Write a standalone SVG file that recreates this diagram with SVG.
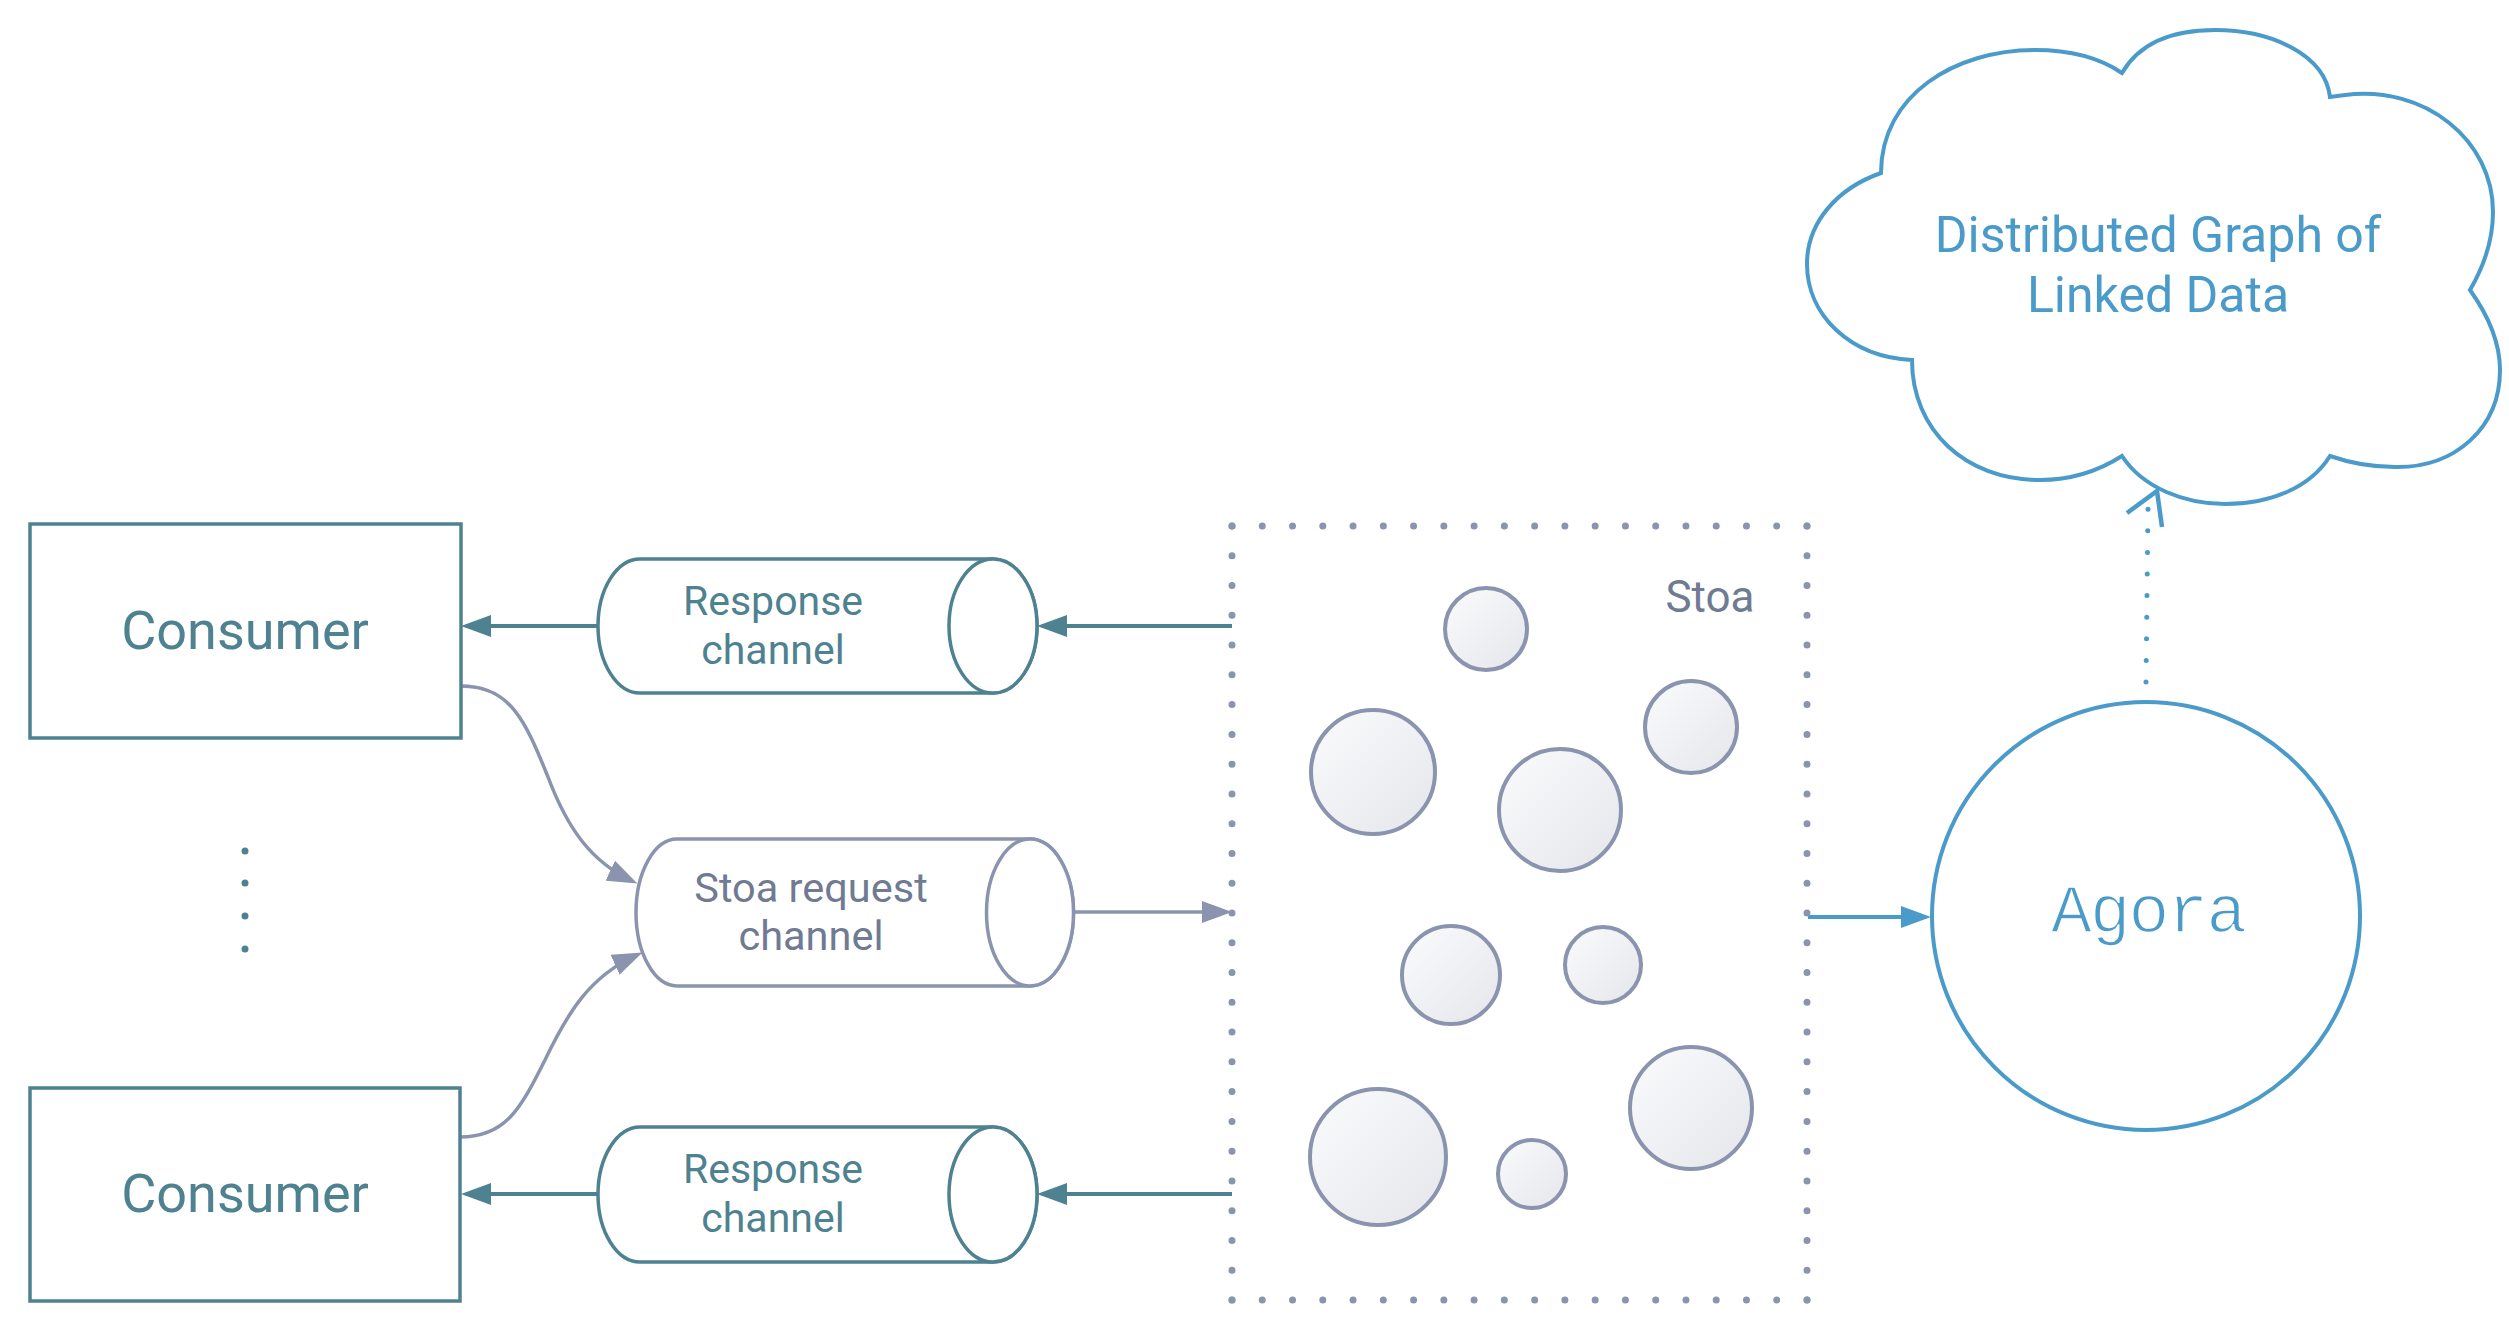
<svg xmlns="http://www.w3.org/2000/svg" width="2509" height="1324" viewBox="0 0 2509 1324">
<style>
text{font-family:Roboto,"Liberation Sans",sans-serif}
.box{fill:#fff;stroke:#4e8291;stroke-width:3.5}
.cyl-t{fill:#fff;stroke:#4e8291;stroke-width:3.5}
.cyl-g{fill:#fff;stroke:#8a94ae;stroke-width:3.5}
.t-teal{fill:#4e8291}
.t-gray{fill:#717a93}
.t-blue{fill:#4a9bca}
.bubble{fill:url(#bub);stroke:#8a94ae;stroke-width:4}
.c-teal{fill:none;stroke:#4e8291;stroke-width:4}
.c-gray{fill:none;stroke:#8a94ae;stroke-width:3.5}
.c-blue{fill:none;stroke:#4a9bca;stroke-width:4}
.dots{fill:none;stroke:#8a94ae;stroke-width:7;stroke-linecap:round}
</style>
<defs>
<linearGradient id="bub" x1="0" y1="0" x2="1" y2="1">
<stop offset="0" stop-color="#fafbfc"/>
<stop offset="1" stop-color="#e4e6eb"/>
</linearGradient>
<marker id="aTeal" markerUnits="userSpaceOnUse" viewBox="0 0 30 22" markerWidth="30" markerHeight="22" refX="24" refY="11" orient="auto">
<path d="M0,0 L30,11 L0,22 Z" fill="#4e8291"/>
</marker>
<marker id="aGray" markerUnits="userSpaceOnUse" viewBox="0 0 30 22" markerWidth="30" markerHeight="22" refX="24" refY="11" orient="auto">
<path d="M0,0 L30,11 L0,22 Z" fill="#8a94ae"/>
</marker>
<marker id="aBlue" markerUnits="userSpaceOnUse" viewBox="0 0 30 22" markerWidth="30" markerHeight="22" refX="24" refY="11" orient="auto">
<path d="M0,0 L30,11 L0,22 Z" fill="#4a9bca"/>
</marker>
</defs>
<rect width="2509" height="1324" fill="#fff"/>

<g id="connectors">
<path class="c-teal" d="M598,626 H467" marker-end="url(#aTeal)"/>
<path class="c-teal" d="M1232,626 H1043" marker-end="url(#aTeal)"/>
<path class="c-teal" d="M598,1194 H467" marker-end="url(#aTeal)"/>
<path class="c-teal" d="M1232,1194 H1043" marker-end="url(#aTeal)"/>
<path class="c-gray" d="M461,686 C510,686 525,720 548,777 C568,830 592,862 632,881" marker-end="url(#aGray)"/>
<path class="c-gray" d="M460,1137 C505,1137 520,1110 545,1060 C568,1012 590,976 637,955" marker-end="url(#aGray)"/>
<path class="c-gray" d="M1073,912 H1226" marker-end="url(#aGray)"/>
<path class="c-blue" d="M1808,917 H1925" marker-end="url(#aBlue)"/>
<path d="M2146,682 L2148,509" fill="none" stroke="#4a9bca" stroke-width="5" stroke-linecap="round" stroke-dasharray="0 21.6"/>
<path d="M2127,513 L2157,491 L2162,527" fill="none" stroke="#4a9bca" stroke-width="4.5"/>
</g>

<g id="consumer1">
<rect class="box" x="30" y="524" width="431" height="214"/>
<text class="t-teal" x="245" y="649" font-size="54" text-anchor="middle">Consumer</text>
</g>
<g id="consumer2">
<rect class="box" x="30" y="1088" width="430" height="213"/>
<text class="t-teal" x="245" y="1212" font-size="54" text-anchor="middle">Consumer</text>
</g>
<g id="ellipsis" class="t-teal">
<circle cx="245" cy="851" r="3.5"/>
<circle cx="245" cy="883" r="3.5"/>
<circle cx="245" cy="916" r="3.5"/>
<circle cx="245" cy="949" r="3.5"/>
</g>

<g id="response-channel-1">
<path class="cyl-t" d="M640,559 L993,559 A44,67 0 0 1 993,693 L640,693 A42,67 0 0 1 640,559 Z"/>
<ellipse class="cyl-t" cx="993" cy="626" rx="44" ry="67"/>
<text class="t-teal" font-size="41" text-anchor="middle"><tspan x="773" y="615">Response</tspan><tspan x="773" y="664">channel</tspan></text>
</g>
<g id="response-channel-2">
<path class="cyl-t" d="M640,1127 L993,1127 A44,67.5 0 0 1 993,1262 L640,1262 A42,67.5 0 0 1 640,1127 Z"/>
<ellipse class="cyl-t" cx="993" cy="1194.5" rx="44" ry="67.5"/>
<text class="t-teal" font-size="41" text-anchor="middle"><tspan x="773" y="1183">Response</tspan><tspan x="773" y="1232">channel</tspan></text>
</g>
<g id="stoa-request-channel">
<path class="cyl-g" d="M677,839 L1030,839 A43.5,73.5 0 0 1 1030,986 L677,986 A41,73.5 0 0 1 677,839 Z"/>
<ellipse class="cyl-g" cx="1030" cy="912.5" rx="43.5" ry="73.5"/>
<text class="t-gray" font-size="41.5" text-anchor="middle"><tspan x="811" y="902">Stoa request</tspan><tspan x="811" y="950">channel</tspan></text>
</g>

<g id="stoa">
<path class="dots" d="M1232,526 H1807 M1232,1300 H1807" stroke-dasharray="0 30.263"/>
<path class="dots" d="M1232,526 V1300 M1807,526 V1300" stroke-dasharray="0 29.769"/>
<text class="t-gray" x="1710" y="612" font-size="44" text-anchor="middle">Stoa</text>
<circle class="bubble" cx="1486" cy="629" r="41"/>
<circle class="bubble" cx="1373" cy="772" r="62"/>
<circle class="bubble" cx="1560" cy="810" r="61"/>
<circle class="bubble" cx="1691" cy="727" r="46"/>
<circle class="bubble" cx="1451" cy="975" r="49"/>
<circle class="bubble" cx="1603" cy="965" r="38"/>
<circle class="bubble" cx="1378" cy="1157" r="68"/>
<circle class="bubble" cx="1532" cy="1174" r="34"/>
<circle class="bubble" cx="1691" cy="1108" r="61"/>
</g>

<g id="agora">
<circle cx="2146" cy="916" r="214" fill="#fff" stroke="#4a9bca" stroke-width="4"/>
<text class="t-blue" x="2148" y="932" font-size="68" letter-spacing="-2" text-anchor="middle" stroke="#fff" stroke-width="1.6" style="font-family:'Liberation Mono','DejaVu Sans Mono',monospace">Agora</text>
</g>

<g id="cloud">
<path d="M1881,173 C1881,95 1955,50 2035,50 C2070,50 2100,58 2122,73 C2140,42 2175,30 2215,30 C2272,30 2325,55 2330,97 L2345,95 C2425,85 2493,140 2493,212 C2493,240 2484,266 2470,290 C2490,318 2500,345 2500,370 C2500,428 2455,468 2395,467 C2373,467 2350,463 2330,456 C2310,488 2270,504 2225,504 C2185,504 2143,488 2122,456 C2100,470 2072,480 2040,480 C1965,480 1912,430 1912,360 C1850,357 1807,315 1807,264 C1807,222 1838,188 1881,173 Z" fill="#fff" stroke="#4a9bca" stroke-width="4"/>
<text class="t-blue" font-size="50" text-anchor="middle"><tspan x="2158" y="252">Distributed Graph of</tspan><tspan x="2158" y="312">Linked Data</tspan></text>
</g>
</svg>
